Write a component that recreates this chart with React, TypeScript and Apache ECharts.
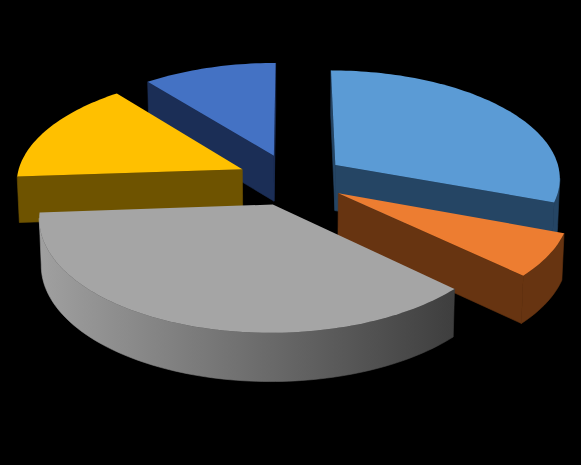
import React, { useEffect, useRef } from "react";
import * as echarts from "echarts";

const categories = ["Slice 1", "Slice 2", "Slice 3", "Slice 4", "Slice 5"];
const values = [30.6, 6.4, 36.9, 15.3, 10.8];
const topColors = ["#5B9BD5", "#ED7D31", "#A5A5A5", "#FFC000", "#4472C4"];
const wallColors = ["#254564", "#673411", "#666666", "#6E5300", "#1B2E56"];
const drawRank = [2, 4, 5, 3, 1];

const CX = 291.5;
const CY = 179.5;
const RX = 226;
const RY = 108;
const PERSPECTIVE = 0.111;
const EXPLODE = 0.24;
const DEPTH = 46;

type P = [number, number];

function project(X: number, Y: number): { top: P; bottom: P } {
  const w = 1 / (1 - PERSPECTIVE * Y);
  const sx = CX + RX * X * w;
  const sy = CY + RY * Y * w;
  return {
    top: [sx, sy],
    bottom: [CX + (sx - CX) * 0.992, sy + DEPTH * Math.pow(w, 0.4)],
  };
}

function renderSlice(params: any, api: any) {
  const i = params.dataIndex;
  const total = values.reduce((a, b) => a + b, 0);
  const before = values.slice(0, i).reduce((a, b) => a + b, 0);
  const a0 = (before / total) * Math.PI * 2;
  const a1 = ((before + api.value(0)) / total) * Math.PI * 2;
  const mid = (a0 + a1) / 2;
  const ox = Math.sin(mid) * EXPLODE;
  const oy = -Math.cos(mid) * EXPLODE;

  const apex = project(ox, oy);
  const rim: { top: P; bottom: P }[] = [];
  const steps = Math.max(6, Math.round((a1 - a0) * 40));
  for (let s = 0; s <= steps; s++) {
    const a = a0 + ((a1 - a0) * s) / steps;
    rim.push(project(ox + Math.sin(a), oy - Math.cos(a)));
  }

  const z = drawRank[i] * 10;
  const children: any[] = [];
  const quad = (tops: P[], bottoms: P[], fill: any, z2: number) =>
    children.push({
      type: "polygon",
      z2,
      shape: { points: [...tops, ...bottoms.slice().reverse()] },
      style: { fill, stroke: fill, lineWidth: 0.6 },
    });

  const wall = wallColors[i];
  const first = rim[0];
  const last = rim[rim.length - 1];

  // radial walls, drawn only if they face the viewer
  if (first.top[0] < apex.top[0]) {
    quad([apex.top, first.top], [apex.bottom, first.bottom], wall, z);
  }
  if (apex.top[0] < last.top[0]) {
    quad([last.top, apex.top], [last.bottom, apex.bottom], wall, z);
  }

  // curved wall: the runs of the rim that travel right-to-left are in front
  let run: { top: P; bottom: P }[] = [];
  const gray = i === 2;
  const fill = gray
    ? new echarts.graphic.LinearGradient(0, 0, 1, 0, [
        { offset: 0, color: "#A0A0A0" },
        { offset: 1, color: "#3E3E3E" },
      ])
    : wall;
  const flush = () => {
    if (run.length > 1) {
      quad(run.map((r) => r.top), run.map((r) => r.bottom), fill, z + 1);
    }
    run = [];
  };
  for (let s = 1; s < rim.length; s++) {
    if (rim[s].top[0] < rim[s - 1].top[0]) {
      if (!run.length) run.push(rim[s - 1]);
      run.push(rim[s]);
    } else {
      flush();
    }
  }
  flush();

  children.push({
    type: "polygon",
    z2: z + 2,
    shape: { points: [apex.top, ...rim.map((r) => r.top)] },
    style: { fill: topColors[i], stroke: null },
  });
  return { type: "group", children };
}

export default function App() {
  const ref = useRef<HTMLDivElement>(null);
  useEffect(() => {
    document.body.style.margin = "0";
    document.body.style.background = "#000";
    const chart = echarts.init(ref.current!, undefined, { renderer: "svg" });
    chart.setOption({
      animation: false,
      backgroundColor: "#000000",
      series: [
        {
          type: "custom",
          coordinateSystem: "none",
          renderItem: renderSlice,
          data: categories.map((name, i) => ({ name, value: [values[i]] })),
          silent: true,
        },
      ],
    });
    return () => chart.dispose();
  }, []);
  return <div ref={ref} style={{ width: 581, height: 465 }} />;
}
